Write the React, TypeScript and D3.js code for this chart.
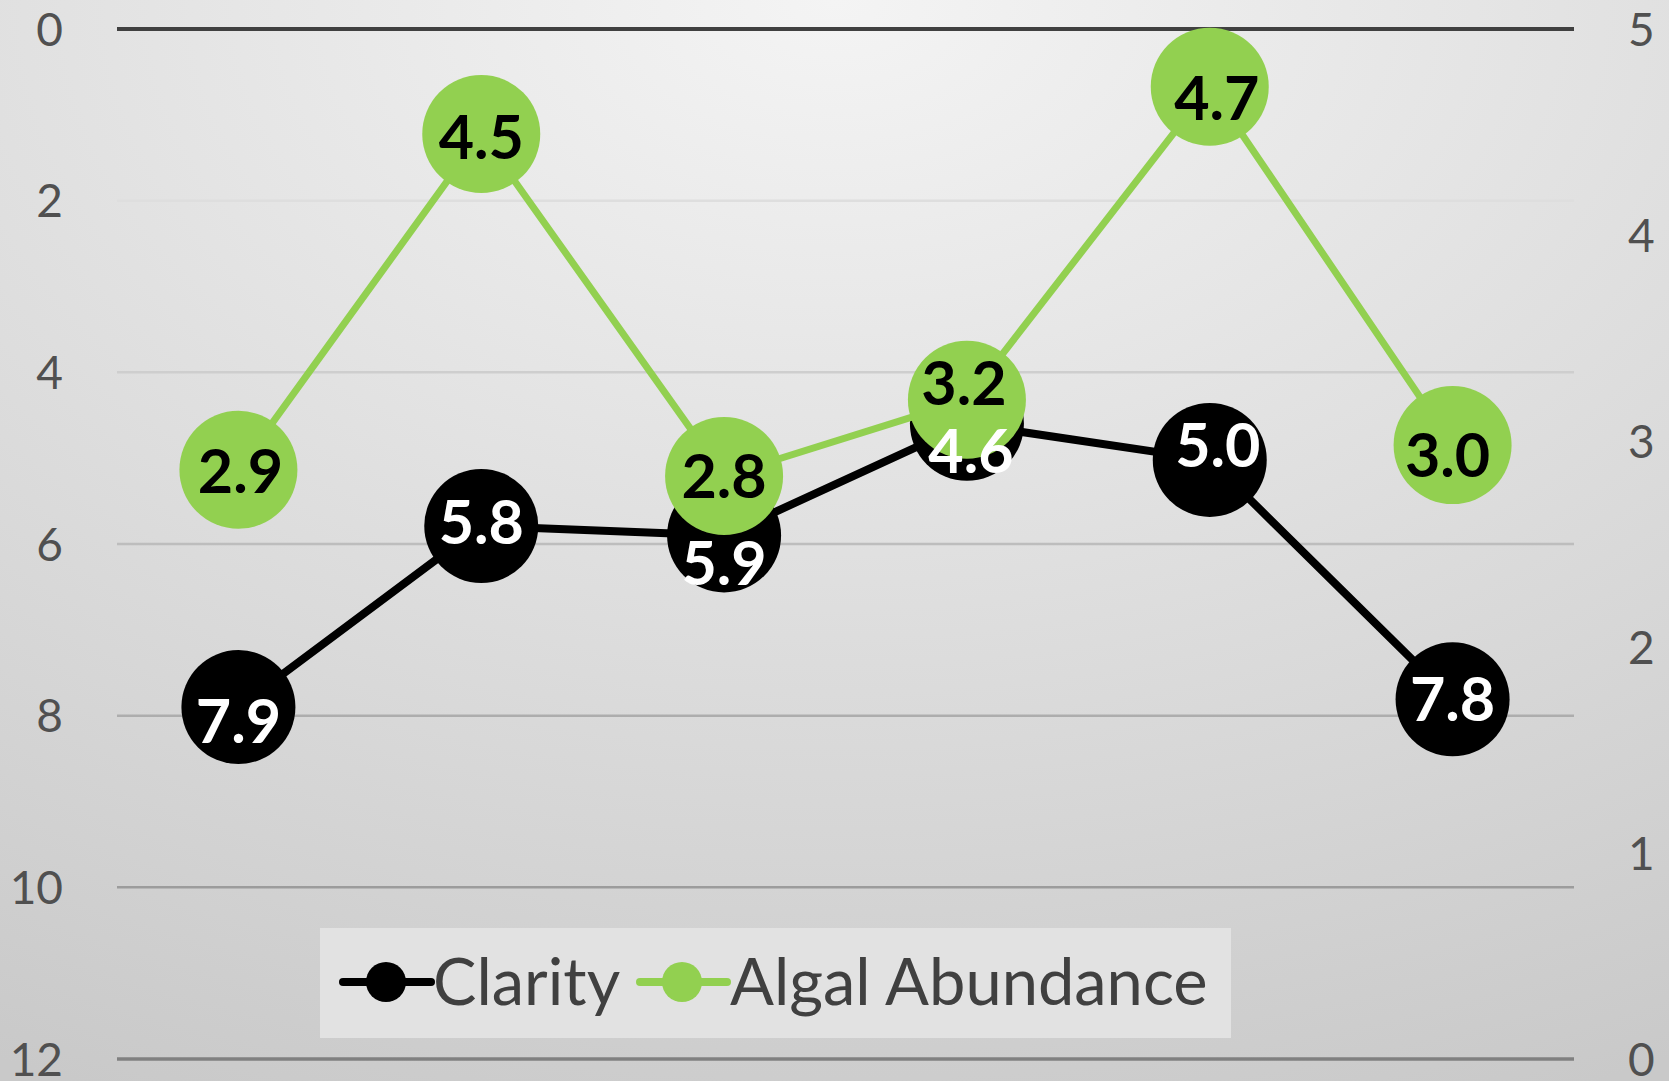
import React from "react";
import * as d3 from "d3";

const categories = ["A", "B", "C", "D", "E", "F"];
const clarity = [7.9, 5.79, 5.9, 4.6, 5.02, 7.81];
const algal = [2.86, 4.49, 2.83, 3.2, 4.72, 2.98];
const leftTicks = [0, 2, 4, 6, 8, 10, 12];
const rightTicks = [0, 1, 2, 3, 4, 5];
const seriesNames = ["Clarity", "Algal Abundance"];

// label nudges (layout only)
const clarityNudge: [number, number][] = [[0, 14], [0, -4], [0, 28], [4, 27], [8, -15], [0, 0]];
const algalNudge: [number, number][] = [[2, 1], [0, 3], [0, 0], [-3, -17], [7, 11], [-5, 10]];

const W = 1669;
const H = 1081;
const GREEN = "#92d050";
const FONT = "Lato, 'Open Sans', sans-serif";

export default function App() {
  const x = d3.scalePoint<string>().domain(categories).range([117, 1574]).padding(0.5);
  const yL = d3.scaleLinear().domain([0, 12]).range([29, 1059]);
  const yR = d3.scaleLinear().domain([0, 5]).range([1059, 29]);

  const lineL = d3.line<number>().x((_, i) => x(categories[i])!).y((d) => yL(d));
  const lineR = d3.line<number>().x((_, i) => x(categories[i])!).y((d) => yR(d));

  const gridColor = d3.scaleLinear<string>().domain([2, 10]).range(["#dedede", "#9c9c9c"]);
  const labelFs = 61;

  return (
    <svg width={W} height={H} style={{ position: "absolute", left: 0, top: 0 }} fontFamily={FONT}>
      <defs>
        <radialGradient id="bg" cx="50%" cy="0%" r="110%" fx="50%" fy="0%">
          <stop offset="0%" stopColor="#f4f4f4" />
          <stop offset="100%" stopColor="#c9c9c9" />
        </radialGradient>
      </defs>
      <rect x={0} y={0} width={W} height={H} fill="url(#bg)" />

      {/* gridlines */}
      {leftTicks.map((t) => {
        const y = yL(t);
        let stroke = gridColor(t);
        let sw = 2.5;
        if (t === 0) { stroke = "#404040"; sw = 4; }
        if (t === 12) { stroke = "#808080"; sw = 3.5; }
        return <line key={t} x1={117} x2={1574} y1={y} y2={y} stroke={stroke} strokeWidth={sw} />;
      })}

      {/* left axis labels */}
      {leftTicks.map((t) => (
        <text key={"l" + t} x={63} y={yL(t) + 46 * 0.36} textAnchor="end" fontSize={46} fill="#505050">
          {t}
        </text>
      ))}
      {/* right axis labels */}
      {rightTicks.map((t) => (
        <text key={"r" + t} x={1628} y={yR(t) + 46 * 0.36} textAnchor="start" fontSize={46} fill="#505050">
          {t}
        </text>
      ))}

      {/* Clarity series */}
      <path d={lineL(clarity)!} fill="none" stroke="#000" strokeWidth={8} strokeLinejoin="round" />
      {clarity.map((v, i) => (
        <circle key={"c" + i} cx={x(categories[i])} cy={yL(v)} r={57} fill="#000" />
      ))}

      {/* Algal series */}
      <path d={lineR(algal)!} fill="none" stroke={GREEN} strokeWidth={7} strokeLinejoin="round" />
      {algal.map((v, i) => (
        <circle key={"a" + i} cx={x(categories[i])} cy={yR(v)} r={59} fill={GREEN} />
      ))}

      {/* labels */}
      {clarity.map((v, i) => (
        <text
          key={"cl" + i}
          x={x(categories[i])! + clarityNudge[i][0]}
          y={yL(v) + clarityNudge[i][1] + labelFs * 0.36}
          textAnchor="middle"
          fontSize={labelFs}
          fontWeight="bold"
          fill="#fff"
        >
          {v.toFixed(1)}
        </text>
      ))}
      {algal.map((v, i) => (
        <text
          key={"al" + i}
          x={x(categories[i])! + algalNudge[i][0]}
          y={yR(v) + algalNudge[i][1] + labelFs * 0.36}
          textAnchor="middle"
          fontSize={labelFs}
          fontWeight="bold"
          fill="#000"
        >
          {v.toFixed(1)}
        </text>
      ))}

      {/* legend */}
      <rect x={320} y={928} width={911} height={110} fill="#e2e2e2" />
      <line x1={343} x2={431} y1={982} y2={982} stroke="#000" strokeWidth={8} strokeLinecap="round" />
      <circle cx={386} cy={982} r={20} fill="#000" />
      <text x={433} y={1005} fontSize={65} fill="#404040">{seriesNames[0]}</text>
      <line x1={640} x2={727} y1={982} y2={982} stroke={GREEN} strokeWidth={8} strokeLinecap="round" />
      <circle cx={682} cy={982} r={20} fill={GREEN} />
      <text x={730} y={1005} fontSize={65} fill="#404040">{seriesNames[1]}</text>
    </svg>
  );
}
